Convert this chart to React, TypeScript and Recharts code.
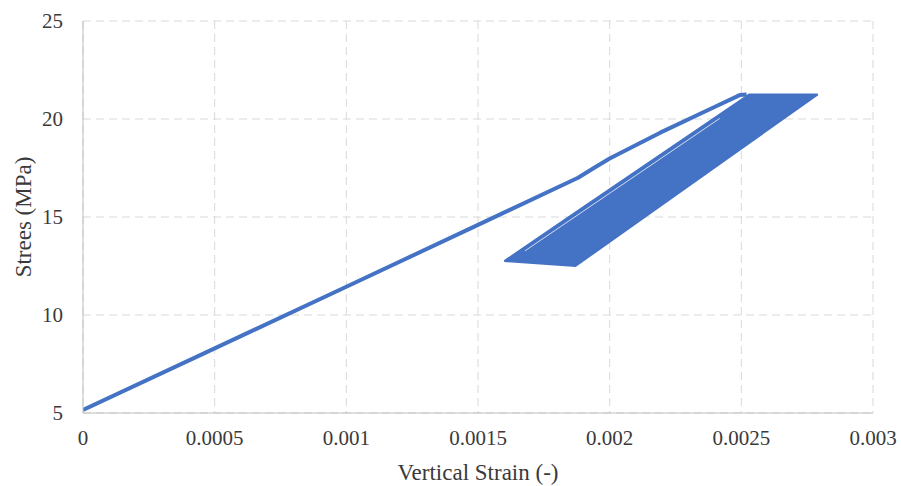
import React from 'react';
import { ComposedChart, Line, Area, XAxis, YAxis, CartesianGrid } from 'recharts';

// monotonic loading branch
const loadStrain = [0, 0.0005, 0.001, 0.0015, 0.00188, 0.00194, 0.002, 0.00219, 0.00239, 0.002494, 0.00252];
const loadStress = [5.15, 8.3, 11.44, 14.6, 17.0, 17.5, 17.98, 19.29, 20.56, 21.22, 21.25];

// cyclic loading band (lower / upper envelope)
const bandStrain = [0.0016, 0.00187, 0.00253, 0.00279];
const bandLow = [12.75, 12.5, 18.78, 21.25];
const bandHigh = [12.75, 15.22, 21.25, 21.25];

// thin gap after the first unloading path
const gapStrain = [0.001678, 0.002418];
const gapStress = [13.27, 20.03];

const xTicks = [0, 0.0005, 0.001, 0.0015, 0.002, 0.0025, 0.003];
const yTicks = [5, 10, 15, 20, 25];

const loadData = loadStrain.map((x, i) => ({ x, y: loadStress[i] }));
const bandData = bandStrain.map((x, i) => ({ x, range: [bandLow[i], bandHigh[i]] }));
const gapData = gapStrain.map((x, i) => ({ x, g: gapStress[i] }));

const font = '"Liberation Serif", "Times New Roman", serif';
const blue = '#4472C4';
const textColor = '#3a3a3a';

export default function App() {
  return (
    <div style={{ position: 'absolute', left: 0, top: 0, background: '#fff' }}>
      <ComposedChart width={901} height={486} margin={{ top: 21, right: 28, bottom: 13, left: 23 }}>
        <CartesianGrid strokeDasharray="8 5" stroke="#d9d9d9" />
        <XAxis
          type="number"
          dataKey="x"
          domain={[0, 0.003]}
          ticks={xTicks}
          allowDataOverflow
          height={60}
          tickLine={false}
          tickMargin={11}
          stroke="#bfbfbf"
          tick={{ fill: textColor, fontSize: 21, fontFamily: font }}
          label={{
            value: 'Vertical Strain (-)',
            position: 'insideBottom',
            offset: -7,
            fill: textColor,
            fontSize: 23,
            fontFamily: font,
          }}
        />
        <YAxis
          type="number"
          domain={[5, 25]}
          ticks={yTicks}
          allowDataOverflow
          width={60}
          tickLine={false}
          tickMargin={14}
          stroke="#bfbfbf"
          tick={{ fill: textColor, fontSize: 21, fontFamily: font }}
          label={{
            content: () => (
              <text
                x={23}
                y={217}
                transform="rotate(-90 23 217)"
                textAnchor="middle"
                dominantBaseline="central"
                fill={textColor}
                fontSize={23}
                fontFamily={font}
              >
                Strees (MPa)
              </text>
            ),
          }}
        />
        <Area
          data={bandData}
          dataKey="range"
          type="linear"
          fill={blue}
          fillOpacity={1}
          stroke={blue}
          strokeWidth={2}
          isAnimationActive={false}
        />
        <Line
          data={gapData}
          dataKey="g"
          type="linear"
          stroke="#ffffff"
          strokeOpacity={0.75}
          strokeWidth={1}
          dot={false}
          isAnimationActive={false}
        />
        <Line
          data={loadData}
          dataKey="y"
          type="linear"
          stroke={blue}
          strokeWidth={4}
          strokeLinejoin="round"
          dot={false}
          isAnimationActive={false}
        />
      </ComposedChart>
    </div>
  );
}
